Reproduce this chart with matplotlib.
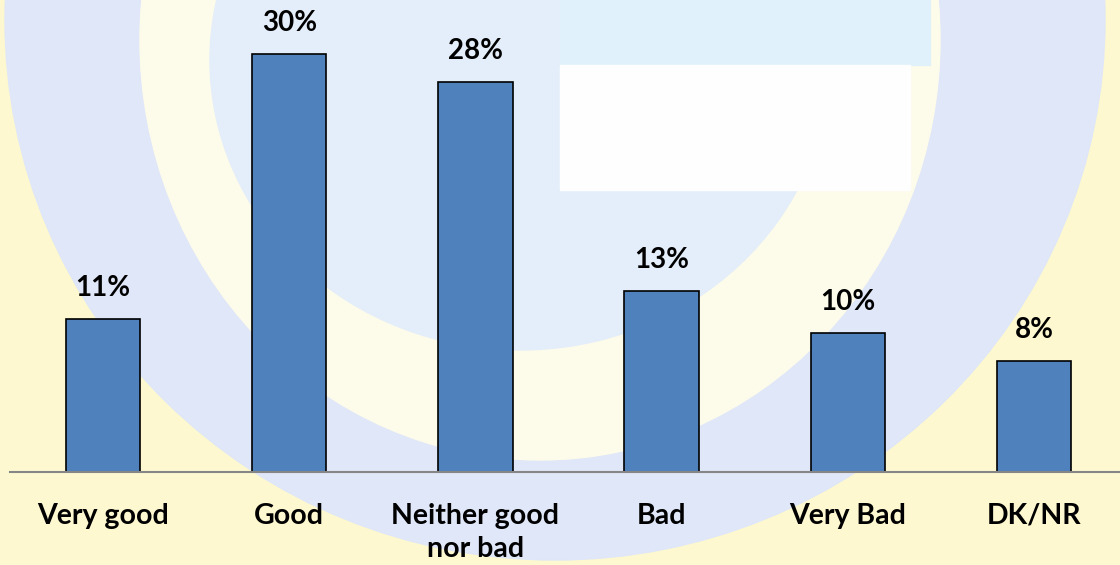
import matplotlib.pyplot as plt
from matplotlib.patches import Ellipse, Rectangle

categories = ["Very good", "Good", "Neither good\nnor bad", "Bad", "Very Bad", "DK/NR"]
values = [11, 30, 28, 13, 10, 8]
value_labels = ["11%", "30%", "28%", "13%", "10%", "8%"]

plt.rcParams["font.family"] = ["Lato", "DejaVu Sans"]

fig = plt.figure(figsize=(11.2, 5.65), dpi=100)

# faint watermark behind the chart (pixel coordinates)
bg = fig.add_axes([0, 0, 1, 1], zorder=0)
bg.set_xlim(0, 1120)
bg.set_ylim(565, 0)
bg.axis("off")
bg.add_patch(Rectangle((0, 0), 1120, 565, color="#fdf8cf"))
bg.add_patch(Ellipse((555, 20), 1100, 1080, color="#dfe7f8"))
bg.add_patch(Ellipse((540, 40), 800, 840, color="#fdfbea"))
bg.add_patch(Ellipse((520, 60), 620, 580, color="#e4eefa"))
bg.add_patch(Rectangle((560, 0), 370, 65, color="#e0f1fb"))
bg.add_patch(Rectangle((560, 65), 350, 125, color="#fefefe"))

ax = fig.add_axes([10 / 1120, (565 - 472) / 565, 1117 / 1120, 472 / 565], zorder=1)
ax.patch.set_alpha(0)
x = range(len(categories))
bars = ax.bar(x, values, width=0.4, color="#4f81bd", edgecolor="black", linewidth=1.2)

for b, lab in zip(bars, value_labels):
    ax.annotate(lab, (b.get_x() + b.get_width() / 2, b.get_height()),
                xytext=(0, 13), textcoords="offset points", ha="center", va="bottom",
                fontsize=20, fontweight="bold")

ax.set_xlim(-0.5, 5.5)
ax.set_ylim(0, 33.9)
ax.set_xticks(list(x))
ax.set_xticklabels(categories, fontsize=20.5, fontweight="bold", linespacing=1.35)
ax.tick_params(axis="x", length=0, pad=22)
ax.set_yticks([])
for s in ["top", "left", "right"]:
    ax.spines[s].set_visible(False)
ax.spines["bottom"].set_color("#868686")
ax.spines["bottom"].set_linewidth(1.5)

fig.savefig("out.png", dpi=100)
